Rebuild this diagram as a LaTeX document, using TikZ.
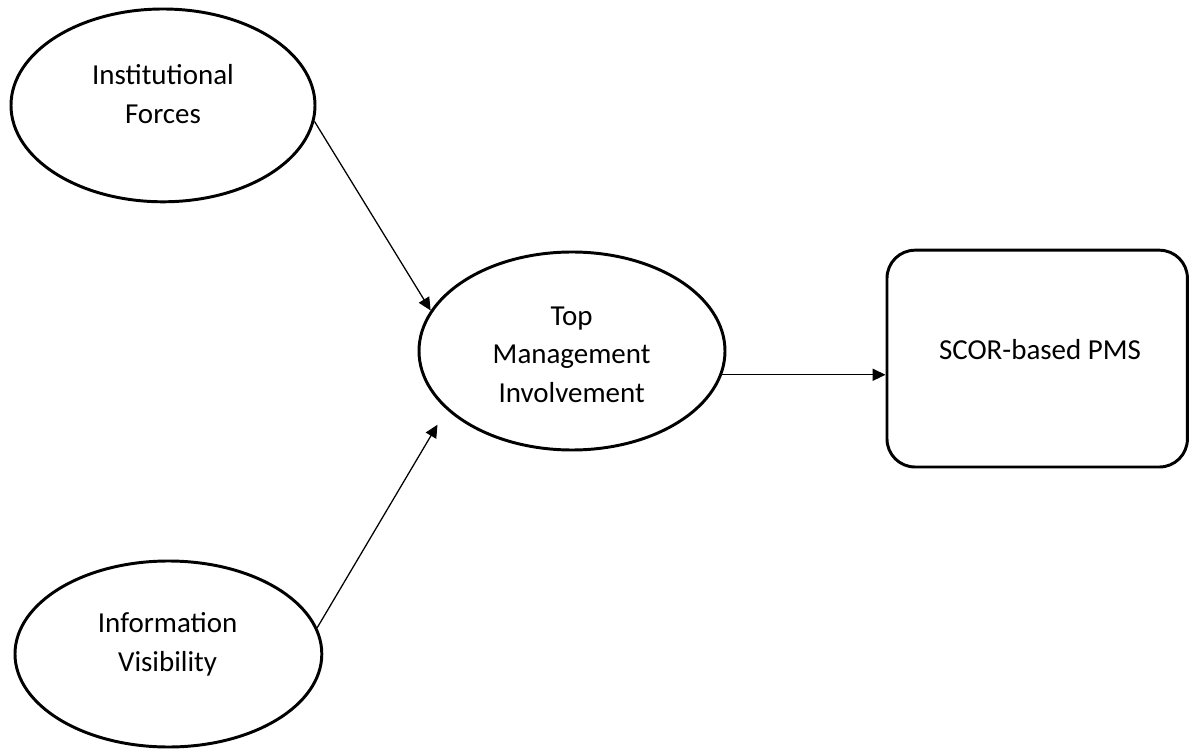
\documentclass[tikz,border=0pt]{standalone}
\usepackage{fontspec}
\setmainfont{Carlito}
\usepackage{tikz}
\usetikzlibrary{shapes.geometric, arrows.meta, positioning, calc}

\begin{document}
\begin{tikzpicture}[
  construct/.style = {ellipse, draw=black, line width=2.1pt, fill=white,
                      inner sep=0pt},
  outcome/.style   = {rectangle, rounded corners=0.7cm, draw=black,
                      line width=2.1pt, fill=white, inner sep=0pt,
                      minimum width=7.51cm, minimum height=5.42cm},
  txt/.style       = {align=center, font=\fontsize{20.6}{27.5}\selectfont,
                      inner sep=0pt},
  arr/.style       = {-{Triangle[length=0.32cm, width=0.3cm]},
                      line width=0.9pt, black}
]
\useasboundingbox (0,0) rectangle (29.725,18.725);

% ── Antecedents (left column) ────────────────────────────────────────────────
\node[construct, minimum width=7.6cm, minimum height=4.82cm]
     (inst) at (4.075,16.09) {};
\node[txt] (inst-t) at (4.075,16.38) {Institutional\\Forces};

\node[construct, minimum width=7.67cm, minimum height=4.65cm]
     (vis) at (4.21,2.375) {};
\node[txt] (vis-t) at (4.19,2.61) {Information\\Visibility};

% ── Mediator ─────────────────────────────────────────────────────────────────
\node[construct, minimum width=7.65cm, minimum height=4.95cm]
     (tmi) at (14.3,9.95) {};
\node[txt] (tmi-t) at (14.29,9.86) {Top\\Management\\Involvement};

% ── Outcome ──────────────────────────────────────────────────────────────────
\node[outcome] (pms) at (25.93,9.76) {};
\node[txt] (pms-t) at (26.0,9.975) {SCOR-based PMS};

% ── Paths ────────────────────────────────────────────────────────────────────
\draw[arr] (inst.-6.3) -- (tmi.164.1);
\draw[arr, shorten >=0.44cm] (vis.10.3) -- (tmi.205.6);
\draw[arr] (tmi.-9.8) -- (tmi.-9.8 -| pms.west);
\end{tikzpicture}
\end{document}
